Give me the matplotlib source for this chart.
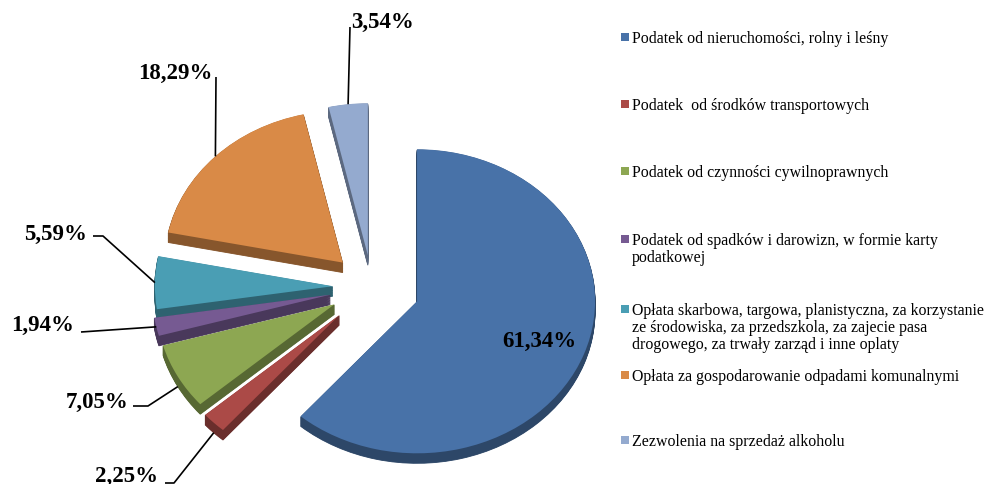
import numpy as np
import matplotlib.pyplot as plt
from matplotlib.colors import to_rgb
from matplotlib.patches import Rectangle

# dane: struktura dochodów (udział %)
categories = [
    "Podatek od nieruchomości, rolny i leśny",
    "Podatek  od środków transportowych",
    "Podatek od czynności cywilnoprawnych",
    "Podatek od spadków i darowizn, w formie karty\npodatkowej",
    "Opłata skarbowa, targowa, planistyczna, za korzystanie\n"
    "ze środowiska, za przedszkola, za zajecie pasa\n"
    "drogowego, za trwały zarząd i inne oplaty",
    "Opłata za gospodarowanie odpadami komunalnymi",
    "Zezwolenia na sprzedaż alkoholu",
]
shares = [61.34, 2.25, 7.05, 1.94, 5.59, 18.29, 3.54]

# styl
colors = ["#4872A8", "#AB4A47", "#8DA752", "#765A92", "#4A9EB4", "#D98A47", "#94AACF"]
explode = [0.27, 0.26, 0.24, 0.24, 0.22, 0.23, 0.21]
draw_rank = [7, 6, 5, 4, 3, 2, 1]  # kolejność rysowania (tył -> przód)

# układ w pikselach: środek koła, skala osi, grubość "3D"
W, H = 999, 485
CX, CY = 372, 288
SX, SY = 178, 152
DEPTH = 10


def px(x, y):
    return (x - CX) / SX, (CY - y) / SY


fig = plt.figure(figsize=(W / 100, H / 100), dpi=100)
ax = fig.add_axes([0, 0, 1, 1])

side_colors = [tuple(c * 0.62 for c in to_rgb(col)) for col in colors]
depth = DEPTH / SY
n_layers = 14
for k in range(n_layers, 0, -1):
    off = depth * k / n_layers
    w, _ = ax.pie(shares, explode=explode, colors=side_colors, startangle=90,
                  counterclock=False, center=(0, -off),
                  wedgeprops=dict(linewidth=0.6))
    for i, wd in enumerate(w):
        wd.set_edgecolor(side_colors[i])
        wd.set_zorder(2 * draw_rank[i])

tops, _ = ax.pie(shares, explode=explode, colors=colors, startangle=90,
                 counterclock=False, wedgeprops=dict(linewidth=0))
for i, wd in enumerate(tops):
    wd.set_zorder(2 * draw_rank[i] + 1)

ax.set_aspect("auto")
ax.set_xlim(-CX / SX, (W - CX) / SX)
ax.set_ylim(-(H - CY) / SY, CY / SY)
ax.axis("off")

# etykiety procentowe
label_font = dict(family="Liberation Serif", fontweight="bold", fontsize=16.5)
pct_text = [f"{v:.2f}%".replace(".", ",") for v in shares]

# pozycje etykiet (px) i punkty startu linii odniesienia
label_pos = {1: (126, 476), 2: (97, 402), 3: (43, 325), 4: (55, 234),
             5: (175, 73), 6: (383, 22)}
leader = {1: [(165, 484), (174, 484)], 2: [(133, 407), (148, 407)],
          3: [(81, 333)], 4: [(93, 237), (103, 237)],
          5: [(216, 78)], 6: [(350, 28)]}

for i, wd in enumerate(tops):
    mid = np.deg2rad((wd.theta1 + wd.theta2) / 2)
    cx, cy = wd.center
    if i == 0:
        r = 0.73
        ax.text(cx + r * np.cos(mid), cy + r * np.sin(mid), pct_text[i],
                ha="center", va="center", zorder=30, **label_font)
        continue
    ax_, ay_ = cx + wd.r * np.cos(mid), cy + wd.r * np.sin(mid)
    if np.sin(mid) < -0.3:
        ay_ -= depth
    tx, ty = px(*label_pos[i])
    ax.text(tx, ty, pct_text[i], ha="center", va="center", zorder=30, **label_font)
    pts = [px(*p) for p in leader[i]] + [(ax_, ay_)]
    xs, ys = zip(*pts)
    ax.plot(xs, ys, color="black", lw=1.2, zorder=29, solid_capstyle="butt")

# legenda
leg_y = [40, 107, 174, 242, 312, 378, 443]
for i, name in enumerate(categories):
    y = leg_y[i]
    fig.patches.append(Rectangle((621 / W, 1 - (y + 2) / H), 8 / W, 8 / H,
                                 transform=fig.transFigure, facecolor=colors[i],
                                 edgecolor="none"))
    fig.text(632 / W, 1 - (y - 9) / H, name, ha="left", va="top",
             family="Liberation Serif", fontsize=11.4, linespacing=1.1)

fig.savefig("out.png", dpi=100)
